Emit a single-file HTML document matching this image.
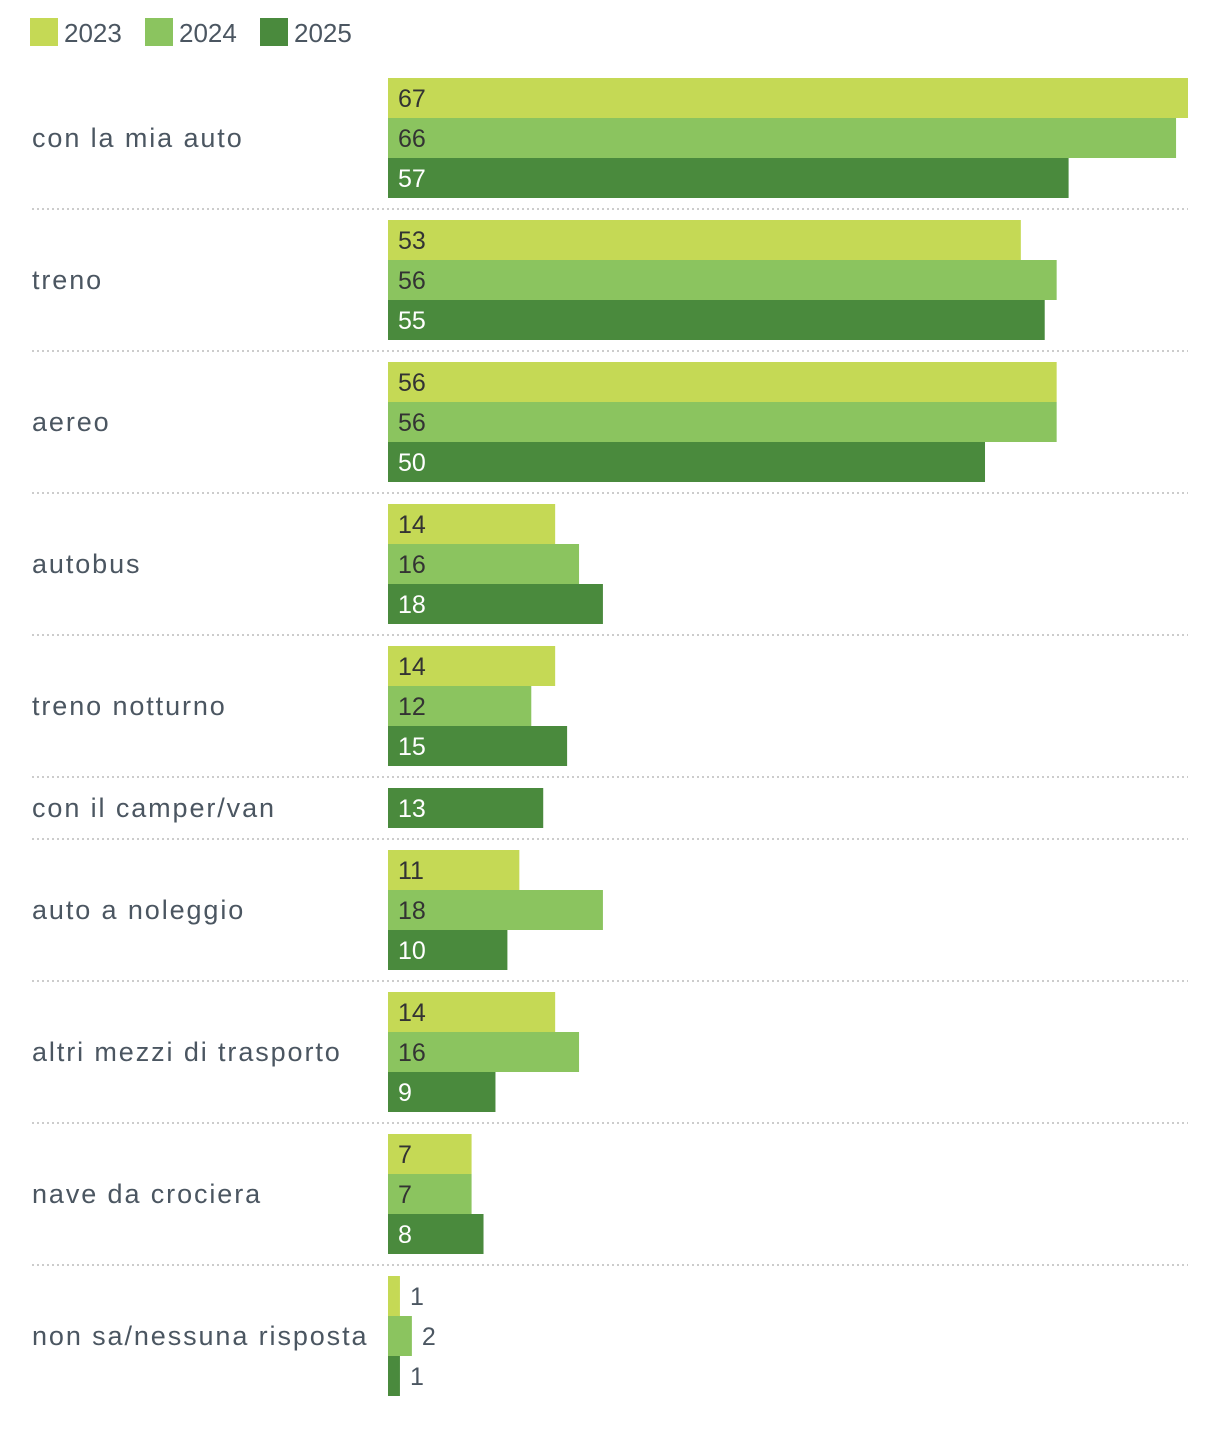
<!DOCTYPE html>
<html><head><meta charset="utf-8"><style>
body{margin:0;background:#fff;font-family:"Liberation Sans",sans-serif;}
svg text{font-family:"Liberation Sans",sans-serif;}
</style></head><body>
<svg id="chart" width="1220" height="1446" xmlns="http://www.w3.org/2000/svg">
<g>
<rect x="30" y="18" width="28" height="28" fill="#c5d955"/>
<text x="64" y="42" font-size="26" fill="#4b5661">2023</text>
<rect x="145" y="18" width="28" height="28" fill="#8bc45f"/>
<text x="179" y="42" font-size="26" fill="#4b5661">2024</text>
<rect x="260" y="18" width="28" height="28" fill="#4a8a3d"/>
<text x="294" y="42" font-size="26" fill="#4b5661">2025</text>
</g>
<g id="plot"></g>
</svg>
<script>
const categories=["con la mia auto","treno","aereo","autobus","treno notturno","con il camper/van","auto a noleggio","altri mezzi di trasporto","nave da crociera","non sa/nessuna risposta"];
const values2023=[67,53,56,14,14,null,11,14,7,1];
const values2024=[66,56,56,16,12,null,18,16,7,2];
const values2025=[57,55,50,18,15,13,10,9,8,1];
const seriesNames=["2023","2024","2025"];
const colors=["#c5d955","#8bc45f","#4a8a3d"];
const textColors=["#333","#333","#fff"];
const series=[values2023,values2024,values2025];
const x0=388, maxV=67, maxW=800;
const xs=v=>v/maxV*maxW;
const NS="http://www.w3.org/2000/svg";
const plot=document.getElementById('plot');
function mk(t,a){const e=document.createElementNS(NS,t);for(const k in a)e.setAttribute(k,a[k]);return e;}
let y=67;
categories.forEach((c,i)=>{
  const present=series.map((s,j)=>j).filter(j=>series[j][i]!==null);
  const h=22+40*present.length;
  const g=mk('g',{});
  
  
  const lbl=mk('text',{x:32,y:y+h/2+9,'font-size':27,fill:'#4b5661','letter-spacing':'1.9'});
  
  
  lbl.textContent=c;g.appendChild(lbl);
  present.forEach((j,k)=>{
    const v=series[j][i];const by=y+11+40*k;const w=xs(v);
    const r=mk('rect',{x:x0,y:by,width:w,height:40,fill:colors[j]});
    
    
    g.appendChild(r);
    const inside=w>40;
    const t=mk('text',{x:inside?x0+10:x0+w+10,y:by+29,'font-size':25,fill:inside?textColors[j]:'#4b5661'});
    
    
    t.textContent=v;g.appendChild(t);
  });
  y+=h;
  if(i<categories.length-1){
    const l=mk('line',{x1:32,x2:1188,y1:y,y2:y,stroke:'#bbb','stroke-width':1.5,'stroke-dasharray':'2,3'});
    
    
    g.appendChild(l);
  }
  plot.appendChild(g);
});
</script>
</body></html>
